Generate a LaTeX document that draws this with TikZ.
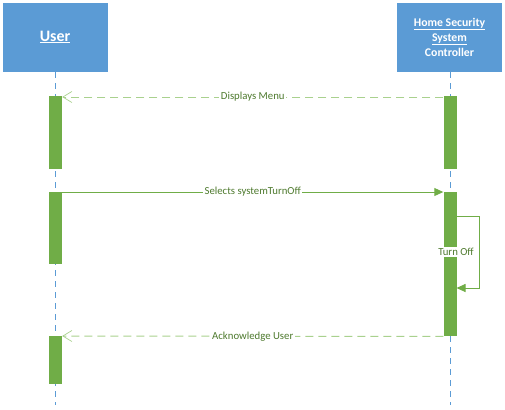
\documentclass[tikz,border=0pt]{standalone}
\usepackage{fontspec}
\setmainfont{Carlito}
\usetikzlibrary{arrows.meta}
\definecolor{SeqBlue}{HTML}{5B9BD5}
\definecolor{SeqGreen}{HTML}{70AD47}
\definecolor{SeqLight}{HTML}{A9D18E}
\definecolor{SeqText}{HTML}{4E7A2E}

\tikzset{
  headbox/.style={fill=SeqBlue,draw=white,line width=0.8bp,text=white,font=\bfseries,
    minimum width=106bp,minimum height=70bp,align=center,inner sep=0pt},
  lifeline/.style={SeqBlue,line width=0.8bp,dash pattern=on 6bp off 5bp},
  actbar/.style={fill=SeqGreen,draw=none,minimum width=13bp,inner sep=0pt,anchor=north},
  callmsg/.style={SeqGreen,line width=0.9bp,-{Triangle[length=9bp,width=8bp]}},
  replymsg/.style={SeqLight,line width=1bp,dash pattern=on 8bp off 5bp,
    -{Straight Barb[length=9bp,width=11bp,line width=0.7bp]}},
  msglabel/.style={fill=white,text=SeqText,font=\fontsize{10.8}{13}\selectfont,inner sep=1.5bp}
}

\begin{document}
\begin{tikzpicture}[x=1bp,y=-1bp,line cap=butt,line join=miter]
  \useasboundingbox (0,0) rectangle (505,409);
  % heads
  \node[headbox,font=\bfseries\fontsize{16}{19}\selectfont] (user) at (55,37) {\underline{User}};
  \node[headbox,font=\bfseries\fontsize{11.8}{15}\selectfont] (ctrl) at (449.5,37)
    {\underline{Home Security}\\\underline{System}\\Controller};
  \coordinate (userend) at (55,405);
  \coordinate (ctrlend) at (450,405);
  \draw[lifeline] (user.south) -- (userend);
  \draw[lifeline] (ctrl.south -| ctrlend) -- (ctrlend);
  % activation bars
  \foreach \name/\x/\top/\len in {u1/55.5/96/73,u2/55.5/192/72,u3/55.5/336/48,
                                   c1/450/96/73,c2/450/192/144}{
    \node[actbar,minimum height=\len bp] (\name) at (\x,\top) {};
  }
  % messages
  \draw[replymsg] ([yshift=-1bp]c1.north west) -- ([yshift=-1bp]u1.north east)
    node[msglabel,pos=0.5] (m1) {Displays Menu};
  \draw[callmsg] (u2.north east) -- (c2.north west)
    node[msglabel,pos=0.5] (m2) {Selects systemTurnOff};
  \coordinate (selfout) at (456.5,216);
  \coordinate (selfin) at (456.5,288);
  \draw[callmsg] (selfout) -- ++(23,0) |- (selfin);
  \node[msglabel] (m3) at (456,252) {Turn Off};
  \draw[replymsg] (c2.south west) -- (u3.north east)
    node[msglabel,pos=0.5] (m4) {Acknowledge User};
\end{tikzpicture}
\end{document}
